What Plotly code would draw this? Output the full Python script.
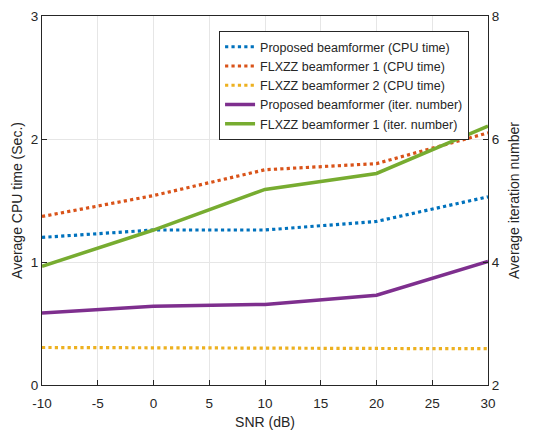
import plotly.graph_objects as go

snr = [-10, 0, 10, 20, 30]
cpu_proposed = [1.20, 1.26, 1.26, 1.33, 1.53]
cpu_flxzz1 = [1.37, 1.54, 1.75, 1.80, 2.05]
cpu_flxzz2 = [0.305, 0.305, 0.30, 0.297, 0.295]
iter_proposed = [3.17, 3.28, 3.31, 3.46, 4.01]
iter_flxzz1 = [3.93, 4.52, 5.18, 5.44, 6.21]

x_ticks = [-10, -5, 0, 5, 10, 15, 20, 25, 30]
x_ticklabels = ["-10", "-5", "0", "5", "10", "15", "20", "25", "30"]

names = [
    "Proposed beamformer (CPU time)",
    "FLXZZ beamformer 1 (CPU time)",
    "FLXZZ beamformer 2 (CPU time)",
    "Proposed beamformer (iter. number)",
    "FLXZZ beamformer 1 (iter. number)",
]
colors = ["#0072BD", "#D95319", "#EDB120", "#7E2F8E", "#77AC30"]

fig = go.Figure()
for vals, name, col in zip([cpu_proposed, cpu_flxzz1, cpu_flxzz2], names[:3], colors[:3]):
    fig.add_trace(go.Scatter(x=snr, y=vals, name=name, mode="lines",
                             line=dict(color=col, width=3.2, dash="dot"), yaxis="y"))
for vals, name, col in zip([iter_proposed, iter_flxzz1], names[3:], colors[3:]):
    fig.add_trace(go.Scatter(x=snr, y=vals, name=name, mode="lines",
                             line=dict(color=col, width=3.5), yaxis="y2"))

font = dict(family="Liberation Sans, Arial, sans-serif", color="#262626")
fig.update_layout(
    width=541, height=422,
    margin=dict(l=34, r=61, t=8, b=45),
    paper_bgcolor="white", plot_bgcolor="white",
    font=dict(size=13, **font),
    showlegend=True,
    legend=dict(x=0.397, y=0.959, xanchor="left", yanchor="top",
                bgcolor="white", bordercolor="#262626", borderwidth=1,
                font=dict(size=12.5, **font), tracegroupgap=0),
    xaxis=dict(range=[-10, 30], tickvals=x_ticks, ticktext=x_ticklabels,
               ticks="inside", ticklen=5, tickcolor="#262626", automargin=False,
               ticklabelstandoff=6,
               showgrid=True, gridcolor="#E6E6E6", zeroline=False,
               showline=True, linecolor="#262626", linewidth=1, mirror=True,
               title=dict(text="SNR (dB)", font=dict(size=14, **font), standoff=12),
               tickfont=dict(size=13.5, **font)),
    yaxis=dict(range=[0, 3], tickvals=[0, 1, 2, 3],
               ticks="inside", ticklen=5, tickcolor="#262626", automargin=False,
               showgrid=True, gridcolor="#E6E6E6", zeroline=False,
               showline=True, linecolor="#262626", linewidth=1,
               title=dict(text="Average CPU time (Sec.)", font=dict(size=14, **font), standoff=4),
               tickfont=dict(size=13.5, **font)),
    yaxis2=dict(range=[2, 8], tickvals=[2, 4, 6, 8], overlaying="y", side="right",
                ticks="inside", ticklen=5, tickcolor="#262626", automargin=False,
                showgrid=False, zeroline=False,
                showline=True, linecolor="#262626", linewidth=1,
                title=dict(text="Average iteration number", font=dict(size=14, **font), standoff=10),
                tickfont=dict(size=13.5, **font)),
)

fig.write_html("out.html")
